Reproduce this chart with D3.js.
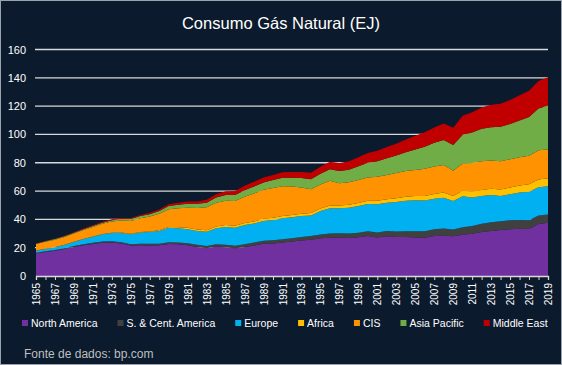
<!DOCTYPE html>
<html><head><meta charset="utf-8">
<script src="https://cdn.jsdelivr.net/npm/d3@7/dist/d3.min.js"></script>
<style>html,body{margin:0;padding:0;background:#0b1a2d;} svg{display:block}</style>
</head><body><svg id="c" width="562" height="365"></svg>
<script>
const title = "Consumo Gás Natural (EJ)";
const source = "Fonte de dados: bp.com";
const years = d3.range(1965, 2020);
const seriesNames = ["North America", "S. & Cent. America", "Europe", "Africa", "CIS", "Asia Pacific", "Middle East"];
const yTicks = [0, 20, 40, 60, 80, 100, 120, 140, 160];

const northAmerica = [16.0,17.0,17.8,19.0,20.5,21.7,22.6,23.5,23.6,22.9,21.5,21.8,21.6,21.7,22.6,22.4,21.7,20.5,19.6,20.8,20.3,19.4,20.4,21.5,22.7,23.0,23.6,24.3,25.0,25.6,26.6,27.1,27.2,26.9,27.3,28.2,27.2,28.1,27.6,27.5,27.2,27.0,28.3,28.5,28.0,29.1,29.8,31.0,31.8,32.5,33.1,33.4,33.2,36.7,37.6];
const sCentAmerica = [0.5,0.55,0.6,0.65,0.7,0.75,0.8,0.85,0.9,0.95,1.0,1.05,1.1,1.15,1.2,1.3,1.4,1.5,1.6,1.7,1.8,1.9,2.0,2.1,2.2,2.3,2.35,2.4,2.5,2.6,2.7,2.9,3.0,3.2,3.3,3.5,3.6,3.7,3.9,4.2,4.4,4.6,4.8,5.0,4.9,5.4,5.6,5.9,6.1,6.2,6.3,6.2,6.1,6.0,5.9];
const europe = [1.4,1.6,1.9,2.3,2.9,3.6,4.3,5.1,5.9,6.6,7.0,7.8,8.3,9.0,10.2,10.1,10.0,9.8,10.1,11.2,12.6,12.8,13.6,13.5,14.0,14.3,14.8,14.8,14.8,14.6,16.6,17.9,17.6,18.2,18.9,19.2,19.9,19.9,20.8,21.5,21.9,21.7,21.4,21.8,20.0,21.8,20.1,19.6,19.3,17.8,18.4,19.4,20.3,20.0,19.9];
const africa = [0.04,0.05,0.05,0.06,0.08,0.1,0.12,0.15,0.2,0.25,0.3,0.35,0.4,0.5,0.6,0.7,0.9,1.0,1.1,1.2,1.3,1.35,1.4,1.45,1.5,1.55,1.6,1.65,1.7,1.75,1.8,1.9,1.95,2.0,2.1,2.2,2.4,2.5,2.6,2.8,3.0,3.3,3.5,3.6,3.6,3.9,4.0,4.3,4.4,4.6,4.8,5.0,5.3,5.5,5.6];
const cis = [4.6,5.0,5.3,5.6,5.9,6.3,6.8,7.3,7.9,8.5,9.1,9.8,10.6,11.6,12.6,13.4,14.3,15.2,16.2,16.9,17.2,17.5,18.6,19.8,20.5,21.0,21.1,20.0,18.5,16.8,17.0,17.4,15.8,15.9,16.3,16.5,17.0,17.2,17.8,18.1,18.4,19.1,19.3,19.5,17.8,19.3,20.3,20.3,20.0,20.0,19.9,19.9,20.0,20.7,20.4];
const asiaPacific = [0.3,0.35,0.4,0.45,0.5,0.6,0.7,0.8,0.9,1.1,1.3,1.5,1.7,1.9,2.2,2.5,2.8,3.0,3.2,3.6,4.0,4.2,4.5,4.8,5.2,5.6,6.0,6.3,6.7,7.0,7.6,8.2,8.6,8.9,9.6,10.4,11.0,11.8,12.4,13.3,14.4,15.6,16.8,17.6,18.2,20.2,21.6,22.9,23.5,24.3,24.9,25.9,27.4,29.5,31.0];
const middleEast = [0.2,0.22,0.25,0.3,0.35,0.45,0.55,0.6,0.7,0.75,0.8,0.85,0.95,1.1,1.3,1.4,1.5,1.7,2.0,2.3,2.6,2.9,3.2,3.4,3.5,3.6,3.8,4.0,4.3,4.6,4.9,5.3,5.6,6.0,6.4,6.9,7.3,7.9,8.4,9.0,9.7,10.3,10.8,11.7,12.2,13.5,14.2,15.0,15.8,16.3,17.0,17.8,18.6,19.3,20.0];

const seriesValues = [northAmerica, sCentAmerica, europe, africa, cis, asiaPacific, middleEast];
const colors = ["#7030a0", "#404040", "#00b0f0", "#ffc000", "#ff9200", "#70ad47", "#c00000"];

const table = years.map((yr, i) => {
  const row = {year: yr};
  seriesNames.forEach((n, k) => row[n] = seriesValues[k][i]);
  return row;
});

const W = 562, H = 365;
const svg = d3.select("#c");
svg.append("rect").attr("x", 0.5).attr("y", 0.5).attr("width", W - 1).attr("height", H - 1)
  .attr("fill", "#0b1a2d").attr("stroke", "#9aa3ad").attr("stroke-width", 1);

const x = d3.scaleLinear().domain([1965, 2019]).range([36, 548]);
const y = d3.scaleLinear().domain([0, 160]).range([276, 49.5]);

const font = "'Liberation Sans', Arial, sans-serif";

// title
svg.append("text").attr("x", 281).attr("y", 29).attr("text-anchor", "middle")
  .attr("fill", "#ffffff").attr("font-family", font).attr("font-size", 16.5).text(title);

// gridlines
svg.append("g").selectAll("line").data(yTicks.filter(d => d > 0)).join("line")
  .attr("x1", 35).attr("x2", 548).attr("y1", d => y(d)).attr("y2", d => y(d))
  .attr("stroke", "#d9d9d9").attr("stroke-width", 1.3);

// areas
const stack = d3.stack().keys(seriesNames);
const stacked = stack(table);
const area = d3.area().x(d => x(d.data.year)).y0(d => y(d[0])).y1(d => y(d[1]));
svg.append("g").selectAll("path").data(stacked).join("path")
  .attr("d", area).attr("fill", (d, i) => colors[i]);

// y axis labels
const yAxis = d3.axisLeft(y).tickValues(yTicks).tickSize(0).tickPadding(0);
const gy = svg.append("g").attr("transform", "translate(26,0)").call(yAxis);
gy.select(".domain").remove();
gy.selectAll("text").attr("fill", "#ffffff").attr("font-family", font).attr("font-size", 11);

// x axis
const xAxis = d3.axisBottom(x).tickValues(years).tickSize(4)
  .tickFormat(d => (d - 1965) % 2 === 0 ? String(d) : "");
const gx = svg.append("g").attr("transform", `translate(0,${y(0)})`).call(xAxis);
gx.select(".domain").attr("stroke", "#d9d9d9").attr("stroke-width", 1.3);
gx.selectAll(".tick line").attr("stroke", "#d9d9d9");
gx.selectAll("text").attr("fill", "#ffffff").attr("font-family", font).attr("font-size", 10)
  .attr("transform", "rotate(-90)").attr("text-anchor", "end")
  .attr("x", -7).attr("y", 0).attr("dy", "0.35em");

// legend
const lg = svg.append("g").attr("transform", "translate(0,323)");
const items = lg.selectAll("g").data(seriesNames).join("g");
items.append("rect").attr("width", 6).attr("height", 6).attr("y", -3)
  .attr("fill", (d, i) => colors[i]);
items.append("text").attr("x", 9).attr("dy", "0.35em").attr("fill", "#ffffff")
  .attr("font-family", font).attr("font-size", 10.5).text(d => d);
let lx = 22;
items.each(function () {
  const g = d3.select(this);
  g.attr("transform", `translate(${lx},0)`);
  lx += 9 + g.select("text").node().getComputedTextLength() + 20;
});

// source
svg.append("text").attr("x", 24).attr("y", 358).attr("fill", "#bfbfbf")
  .attr("font-family", font).attr("font-size", 12).text(source);
</script></body></html>
